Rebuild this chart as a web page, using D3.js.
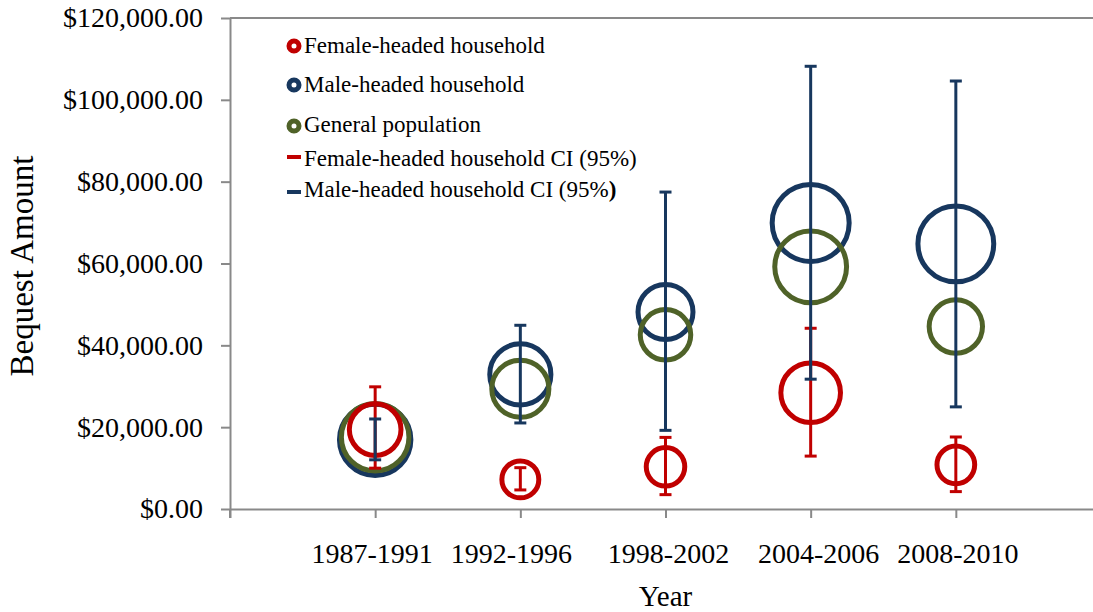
<!DOCTYPE html>
<html><head><meta charset="utf-8">
<script src="https://cdn.jsdelivr.net/npm/d3@7"></script>
<style>
body{margin:0;background:#fff}
svg text{font-family:"Liberation Serif","Times New Roman",serif;fill:#000}
</style>
</head><body><svg id="c" width="1093" height="612"></svg>
<script>
const categories = ["1987-1991","1992-1996","1998-2002","2004-2006","2008-2010"];
const femaleValues  = [19400, 7240, 10300, 28420, 10800];
const maleValues    = [16900, 32900, 48150, 69900, 64800];
const generalValues = [17550, 29400, 42580, 59190, 44600];
const femaleSizes  = [45, 23, 25, 60, 24];
const maleSizes    = [86, 63, 51, 100, 97];
const generalSizes = [77, 55, 43, 87, 48];
const femaleCILow  = [9980, 4660, 3510, 12930, 4250];
const femaleCIHigh = [29860, 10100, 17500, 44170, 17600];
const maleCILow    = [12020, 21030, 19220, 31730, 24960];
const maleCIHigh   = [22000, 44900, 77460, 108200, 104600];
const yTicks = [0, 20000, 40000, 60000, 80000, 100000, 120000];
const legendLabels = ["Female-headed household","Male-headed household","General population","Female-headed household CI (95%)","Male-headed household CI (95%"];

const RED = "#C00000", BLUE = "#17375E", GREEN = "#4F6228", GRAY = "#898989";
const svg = d3.select("#c");
const x = d3.scaleLinear().domain([0, 6]).range([230, 1101]);
const y = d3.scaleLinear().domain([0, 120000]).range([509, 18]);
const r = d3.scaleSqrt().domain([0, 100]).range([0, 38.5]);

// top border
svg.append("line").attr("x1", 230).attr("x2", 1093).attr("y1", y(120000)).attr("y2", y(120000))
  .attr("stroke", GRAY).attr("stroke-width", 2);

// y axis
const ya = svg.append("g").attr("transform", "translate(230,0)")
  .call(d3.axisLeft(y).tickValues(yTicks).tickSize(9).tickSizeOuter(0).tickPadding(18).tickFormat(d3.format("$,.2f")));
// x axis
const xa = svg.append("g").attr("transform", `translate(0,${y(0)})`)
  .call(d3.axisBottom(x).tickValues([0,1,2,3,4,5]).tickSize(9).tickSizeOuter(0).tickFormat(""));
[ya, xa].forEach(g => {
  g.selectAll("path.domain").attr("stroke", GRAY).attr("stroke-width", 2);
  g.selectAll(".tick line").attr("stroke", GRAY).attr("stroke-width", 2);
});
ya.selectAll(".tick text").attr("font-size", 28).style("font-family", "'Liberation Serif',serif").attr("fill", "#000");
svg.append("line").attr("x1", 230).attr("x2", 230).attr("y1", y(0)).attr("y2", y(0) + 9)
  .attr("stroke", GRAY).attr("stroke-width", 2);

// category labels (small horizontal nudges as in the original text boxes)
const labelNudge = [-3, -9, 3, 8, 2];
svg.append("g").selectAll("text").data(categories).join("text")
  .attr("x", (d, i) => x(i + 1) + labelNudge[i]).attr("y", 563).attr("text-anchor", "middle")
  .attr("font-size", 28).text(d => d);

// axis titles
svg.append("text").attr("x", x(3)).attr("y", 606).attr("text-anchor", "middle").attr("font-size", 29).text("Year");
svg.append("text").attr("transform", "translate(33,266) rotate(-90)").attr("text-anchor", "middle")
  .attr("font-size", 33).text("Bequest Amount");

// bubbles
function bubbles(vals, sizes, color) {
  svg.append("g").selectAll("circle").data(vals).join("circle")
    .attr("cx", (d, i) => x(i + 1)).attr("cy", d => y(d)).attr("r", (d, i) => r(sizes[i]))
    .attr("fill", "none").attr("stroke", color).attr("stroke-width", 5);
}
bubbles(maleValues, maleSizes, BLUE);
bubbles(generalValues, generalSizes, GREEN);
bubbles(femaleValues, femaleSizes, RED);

// error bars
function errBars(lo, hi, color) {
  const g = svg.append("g").attr("stroke", color).attr("stroke-width", 3);
  lo.forEach((l, i) => {
    const cx = x(i + 1), h = hi[i];
    g.append("line").attr("x1", cx).attr("x2", cx).attr("y1", y(l)).attr("y2", y(h));
    g.append("line").attr("x1", cx - 6).attr("x2", cx + 6).attr("y1", y(l)).attr("y2", y(l));
    g.append("line").attr("x1", cx - 6).attr("x2", cx + 6).attr("y1", y(h)).attr("y2", y(h));
  });
}
errBars(femaleCILow, femaleCIHigh, RED);
errBars(maleCILow, maleCIHigh, BLUE);

// legend
const lg = svg.append("g");
const markerY = [46, 85, 126, 157, 192];
const textY = [53, 92, 132, 166, 197];
const lcolors = [RED, BLUE, GREEN, RED, BLUE];
legendLabels.forEach((t, i) => {
  if (i < 3) {
    lg.append("circle").attr("cx", 294).attr("cy", markerY[i]).attr("r", 5)
      .attr("fill", "none").attr("stroke", lcolors[i]).attr("stroke-width", 5);
  } else {
    lg.append("line").attr("x1", 287).attr("x2", 301).attr("y1", markerY[i]).attr("y2", markerY[i])
      .attr("stroke", lcolors[i]).attr("stroke-width", 4);
  }
  const tx = lg.append("text").attr("x", 304).attr("y", textY[i]).attr("font-size", 23).text(t);
  if (i === 4) tx.append("tspan").attr("font-weight", "bold").text(")");
});
</script></body></html>
